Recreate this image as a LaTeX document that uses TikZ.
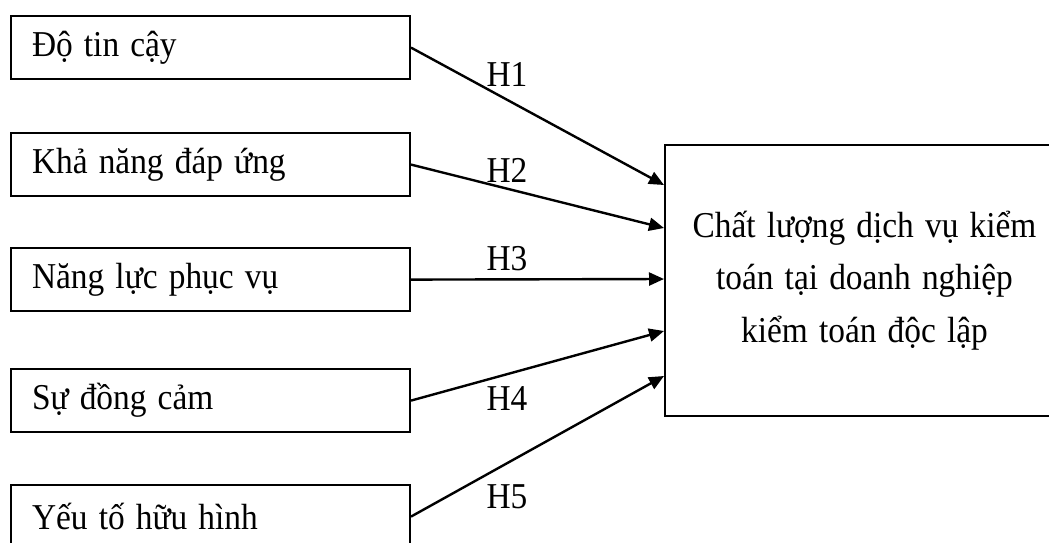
\documentclass[tikz,border=0pt]{standalone}
\usepackage{fontspec}
\setmainfont{Liberation Serif}
\usetikzlibrary{arrows.meta, positioning, calc}

\begin{document}
\begin{tikzpicture}[x=1pt, y=-1pt,
  every node/.append style={yscale=1.09, transform shape},
  factor/.style={draw, line width=2pt, anchor=north west, minimum height=57.8pt,
    text width=357pt, inner xsep=21pt, inner ysep=0pt, align=left, font=\fontsize{33.4}{40}\selectfont},
  outcome/.style={draw, line width=2pt, anchor=north west, minimum width=399pt,
    minimum height=248.6pt, text width=370pt, align=center, font=\fontsize{33.4}{48.3}\selectfont},
  hlabel/.style={font=\fontsize{33.4}{40}\selectfont, inner sep=0pt},
  link/.style={line width=2.4pt, -{Triangle[length=15pt, width=13pt]}}]

\useasboundingbox (0,0) rectangle (1049,542);
\clip (0,0) rectangle (1049,542);

% cac nhan to
\node[factor] (f1) at (10,15)  {Độ tin cậy};
\node[factor] (f2) at (10,132) {Khả năng đáp ứng};
\node[factor] (f3) at (10,247) {Năng lực phục vụ};
\node[factor] (f4) at (10,368) {Sự đồng cảm};
\node[factor] (f5) at (10,484) {Yếu tố hữu hình};

% bien phu thuoc
\node[outcome] (cl) at (664,144) {Chất lượng dịch vụ kiểm\\ toán tại doanh nghiệp\\ kiểm toán độc lập};

\coordinate (e1) at (664,185);
\coordinate (e2) at (664,228);
\coordinate (e3) at (664,279);
\coordinate (e4) at (664,331);
\coordinate (e5) at (664,376);

% gia thuyet
\draw[link] (f1.east) -- (e1);
\draw[link] (f2.east) -- (e2);
\draw[link] (f3.east) -- (e3);
\draw[link] (f4.east) -- (e4);
\draw[link] (f5.east) -- (e5);

\node[hlabel] (h1) at (507,74)  {H1};
\node[hlabel] (h2) at (507,170) {H2};
\node[hlabel] (h3) at (507,259) {H3};
\node[hlabel] (h4) at (507,399) {H4};
\node[hlabel] (h5) at (507,497) {H5};

\end{tikzpicture}
\end{document}
